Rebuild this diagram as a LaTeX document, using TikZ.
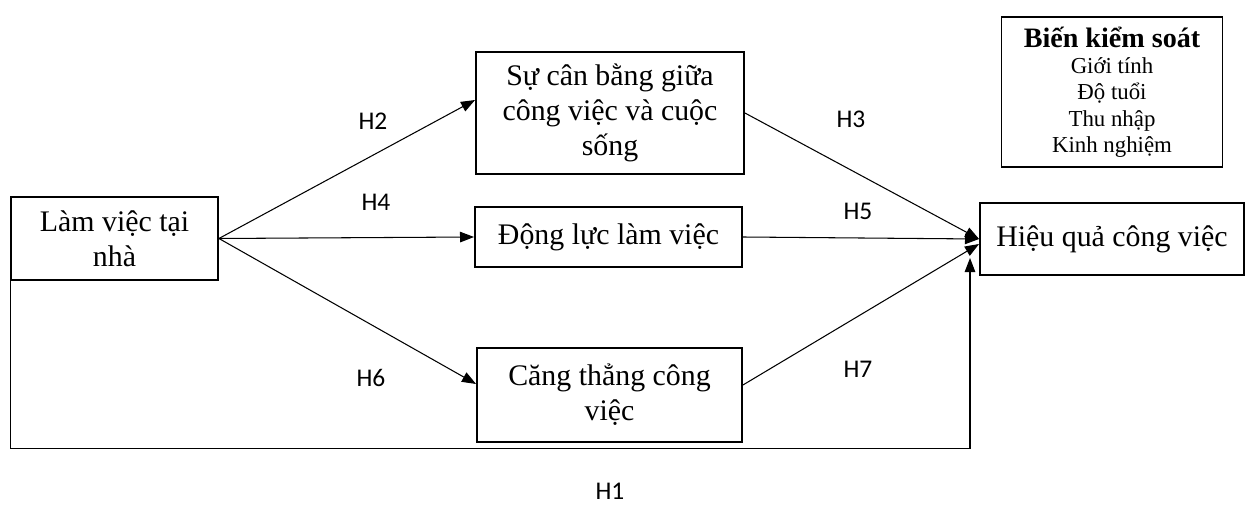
\documentclass[tikz,border=0pt]{standalone}
\usepackage{fontspec}
\setmainfont{Liberation Serif}
\newfontfamily\hfont{Carlito}
\usetikzlibrary{arrows.meta}

\begin{document}
\begin{tikzpicture}[x=0.02cm, y=-0.02cm,
    >={Triangle[length=8pt, width=6pt]},
    box/.style={draw, line width=1.1pt, align=center, inner sep=0pt,
        font=\fontsize{17}{20}\selectfont},
    hyp/.style={font=\hfont\fontsize{14.5}{16}\selectfont},
    link/.style={->, line width=0.6pt}]
    \useasboundingbox (0,0) rectangle (1248,506);
    % boxes
    \node[box, minimum width=4.14cm, minimum height=1.66cm](home) at (114.5,238.5){Làm việc tại\\nhà};
    \node[box, minimum width=5.36cm, minimum height=2.44cm](balance) at (610,113){Sự cân bằng giữa\\công việc và cuộc\\sống};
    \node[box, minimum width=5.34cm, minimum height=1.2cm](motiv) at (608.5,237){Động lực làm việc};
    \node[box, minimum width=5.3cm, minimum height=1.88cm](stress) at (609.5,395){Căng thẳng công\\việc};
    \node[box, minimum width=5.28cm, minimum height=1.44cm](perf) at (1112,239){Hiệu quả công việc};
    \node[draw, line width=0.8pt, align=center, minimum width=4.42cm, minimum height=3cm, inner sep=0pt,
        font=\fontsize{13}{15}\selectfont](control) at (1112,92)
        {{\fontsize{16}{18}\selectfont\bfseries Biến kiểm soát}\\Giới tính\\Độ tuổi\\Thu nhập\\Kinh nghiệm};
    % links
    \coordinate (h1end) at (970,258);
    \draw[link](home.east)--([yshift=0.26cm]balance.west);
    \draw[link](home.east)--(motiv.west);
    \draw[link](home.east)--([yshift=0.22cm]stress.west);
    \draw[link](balance.east)--(perf.west);
    \draw[link](motiv.east)--(perf.west);
    \draw[link]([yshift=0.2cm]stress.east)--([yshift=-0.1cm]perf.west);
    \draw[link](home.south west)--++(0,168)-|(h1end);
    % labels
    \node[hyp](h2) at (373,121){H2};
    \node[hyp](h3) at (851,119){H3};
    \node[hyp](h4) at (376,202){H4};
    \node[hyp](h5) at (858,211){H5};
    \node[hyp](h6) at (371,378){H6};
    \node[hyp](h7) at (858,369){H7};
    \node[hyp](h1) at (610,491){H1};
\end{tikzpicture}
\end{document}
